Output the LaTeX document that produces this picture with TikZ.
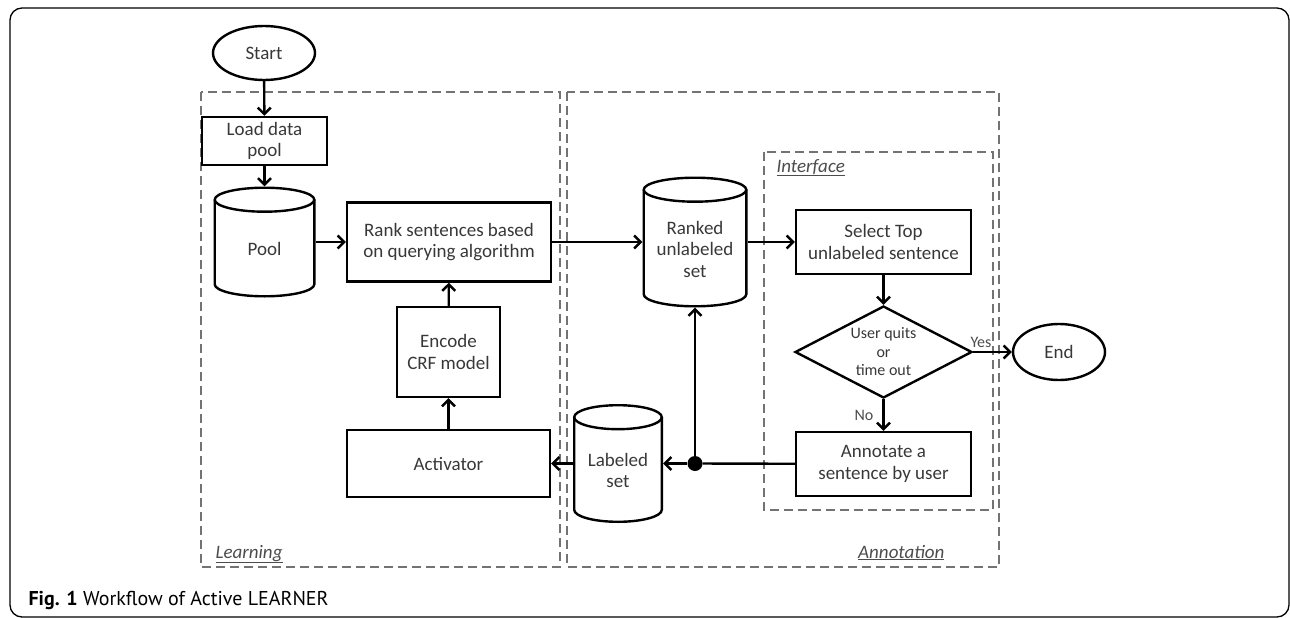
\documentclass[tikz,border=0pt]{standalone}
\usepackage{fontspec}
\setmainfont{Carlito}
\newfontfamily\capfont{PT Sans}
\usetikzlibrary{shapes.geometric,arrows.meta}

\newcommand\boxfont{\fontsize{19}{21.5}\selectfont}
\newcommand\smallfont{\fontsize{16}{18.5}\selectfont}

\tikzset{
  step box/.style={draw,line width=2.4pt,align=center,inner sep=0pt,text=black!78,font=\boxfont},
  store text/.style={align=center,inner sep=0pt,yshift=-7pt,text=black!78,font=\boxfont},
  % drum: width, height, text
  store/.style n args={3}{minimum width=#1,minimum height=#2,inner sep=0pt,
    label={[store text]center:#3},
    path picture={
      \draw[line width=2.4pt] ([yshift=-13.2pt]path picture bounding box.north)
        ellipse [x radius=#1/2-1.2pt,y radius=12pt];
      \draw[line width=2.4pt] ([xshift=1.2pt,yshift=-13.2pt]path picture bounding box.north west)
        -- ([xshift=1.2pt,yshift=13.2pt]path picture bounding box.south west)
        arc [start angle=180,end angle=360,x radius=#1/2-1.2pt,y radius=12pt]
        -- ([xshift=-1.2pt,yshift=-13.2pt]path picture bounding box.north east);
    }},
  flow/.style={line width=2.4pt,-{Straight Barb[length=6.5pt,width=13pt,line width=2.4pt]}},
  zone/.style={draw=black!55,line width=1.8pt,dash pattern=on 9pt off 5pt},
  zone name/.style={font=\boxfont\itshape,text=black!70},
}

\begin{document}
\begin{tikzpicture}[x=1pt,y=-1pt]
  \useasboundingbox (0,0) rectangle (1290,618);
  \draw[line width=1.3pt,rounded corners=12pt] (10,8) rectangle (1289,617);

  % groups
  \draw[zone] (201,92) rectangle (560,567);
  \draw[zone] (567,92) rectangle (999,567);
  \draw[zone] (764,152) rectangle (993,510);
  \node[zone name,anchor=base west] (lbl-learn) at (212,558) {\underline{Learning}};
  \node[zone name,anchor=base east] (lbl-annot) at (948,558) {\underline{Annotation}};
  \node[zone name,anchor=base west] (lbl-iface) at (773,172) {\underline{Interface}};

  % learning side
  \node[step box,ellipse,minimum width=102pt,minimum height=54pt] (start) at (264,53) {Start};
  \node[step box,minimum width=125pt,minimum height=48pt] (load) at (264.5,141) {Load data\\pool};
  \node[store={102pt}{111pt}{Pool}] (pool) at (264.5,242) {};
  \node[step box,minimum width=204pt,minimum height=79pt] (rank) at (449,242) {Rank sentences based\\on querying algorithm};
  \node[step box,minimum width=103pt,minimum height=90pt] (encode) at (448.5,352) {Encode\\CRF model};
  \node[step box,minimum width=203pt,minimum height=67pt] (activ) at (448.5,463.5) {Activator};

  % annotation side
  \node[store={105pt}{131pt}{Ranked\\unlabeled\\set}] (ranked) at (695,242) {};
  \node[store={90pt}{119pt}{Labeled\\set}] (labeled) at (618,463.5) {};
  \node[step box,minimum width=175pt,minimum height=64pt] (select) at (883.5,242) {Select Top\\unlabeled sentence};
  \node[step box,diamond,aspect=1.92,minimum width=177pt,minimum height=92pt,font=\smallfont] (quit) at (883.5,352) {User quits\\or\\time out};
  \node[step box,minimum width=175pt,minimum height=64pt] (annot) at (883.5,464) {Annotate a\\sentence by user};
  \node[step box,ellipse,minimum width=92pt,minimum height=56pt] (end) at (1059,352) {End};
  \node[circle,fill,inner sep=0pt,minimum size=15pt] (dot) at (695,463.5) {};

  \draw[flow] (start) -- (load);
  \draw[flow] (load) -- (pool);
  \draw[flow] (pool) -- (rank);
  \draw[flow] (rank) -- (ranked);
  \draw[flow] (ranked) -- (select);
  \draw[flow] (select) -- (quit);
  \draw[flow] (quit) -- node[pos=0.2,above,font=\smallfont,text=black!70] (yes) {Yes} (end);
  \draw[flow] (quit) -- node[left,inner sep=9pt,font=\smallfont,text=black!70] (no) {No} (annot);
  \draw[line width=2.4pt] (annot) -- (dot);
  \draw[flow] (dot) -- (labeled);
  \draw[flow] (dot) -- (ranked);
  \draw[flow] (labeled) -- (activ);
  \draw[flow] (activ) -- (encode);
  \draw[flow] (encode) -- (rank);

  \node[anchor=base west,font=\capfont\fontsize{20}{22}\selectfont] (caption) at (25,605) {\textbf{Fig. 1} Workflow of Active LEARNER};
\end{tikzpicture}
\end{document}
